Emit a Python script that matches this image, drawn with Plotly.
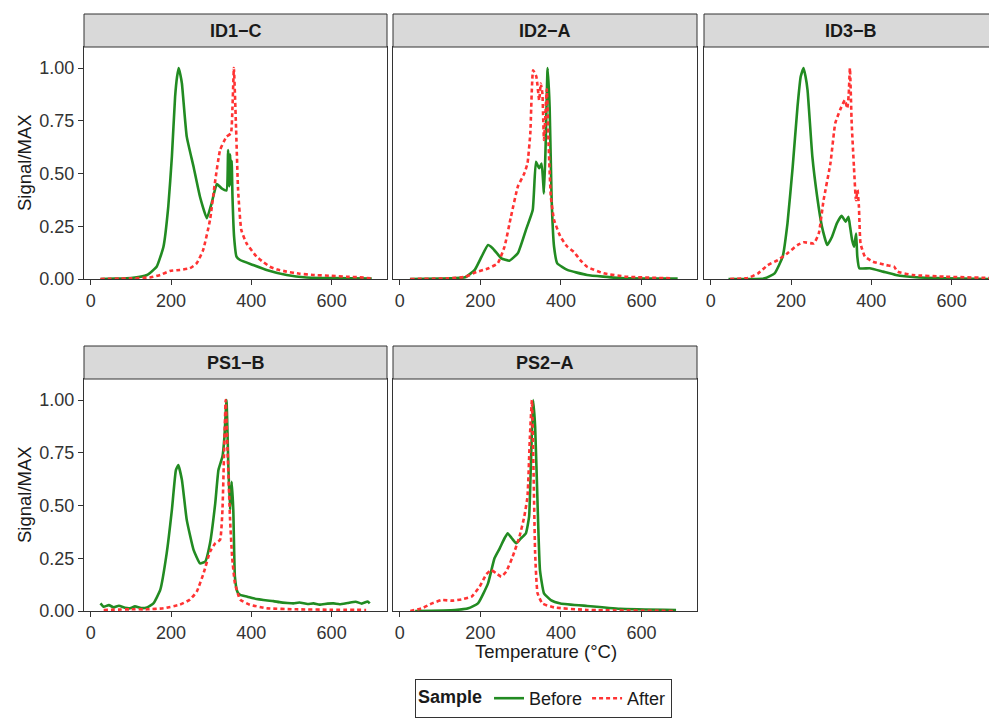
import plotly.graph_objects as go

# ---------------- data ----------------
panels = ["ID1−C", "ID2−A", "ID3−B", "PS1−B", "PS2−A"]
x_ticks = [0, 200, 400, 600]
y_ticks = [0, 0.25, 0.5, 0.75, 1.0]
y_tick_labels = ["0.00", "0.25", "0.50", "0.75", "1.00"]

id1c_before_temp = [24, 60, 100, 140, 164, 181, 193, 202, 210, 215, 219, 223, 227, 239, 256, 272, 289, 301, 314, 326, 338, 342, 345, 347, 349, 351, 353, 357, 363, 372, 405, 438, 488, 537, 600, 700]
id1c_before_signal = [0.0, 0.002, 0.005, 0.019, 0.058, 0.153, 0.343, 0.58, 0.864, 0.96, 1.0, 0.97, 0.927, 0.675, 0.532, 0.39, 0.288, 0.359, 0.45, 0.43, 0.42, 0.611, 0.44, 0.59, 0.45, 0.56, 0.39, 0.2, 0.106, 0.09, 0.066, 0.043, 0.019, 0.007, 0.004, 0.002]
id1c_after_temp = [24, 100, 150, 173, 197, 222, 247, 264, 280, 297, 309, 322, 338, 349, 353, 356.5, 361.5, 367, 375, 388, 413, 430, 446, 465, 488, 520, 554, 600, 637, 670, 699]
id1c_after_signal = [0.0, 0.003, 0.008, 0.019, 0.038, 0.043, 0.051, 0.075, 0.138, 0.28, 0.453, 0.611, 0.675, 0.69, 0.817, 1.0, 0.74, 0.42, 0.232, 0.169, 0.106, 0.08, 0.058, 0.045, 0.035, 0.025, 0.019, 0.015, 0.011, 0.008, 0.003]

id2a_before_temp = [25, 100, 162, 186, 203, 219, 231, 252, 272, 293, 313, 330, 338, 346, 352, 358, 362, 367, 372, 377, 383, 391, 416, 465, 547, 690]
id2a_before_signal = [0.0, 0.002, 0.008, 0.043, 0.106, 0.161, 0.145, 0.098, 0.087, 0.122, 0.232, 0.327, 0.556, 0.525, 0.548, 0.406, 0.627, 1.0, 0.817, 0.375, 0.153, 0.074, 0.043, 0.019, 0.005, 0.002]
id2a_after_temp = [26, 120, 162, 190, 219, 243, 260, 276, 293, 309, 317, 324, 331, 339, 346, 350, 354, 358, 365, 369, 375, 383, 399, 416, 432, 448, 465, 506, 563, 678]
id2a_after_signal = [0.0, 0.003, 0.01, 0.033, 0.05, 0.074, 0.153, 0.296, 0.438, 0.5, 0.548, 0.69, 0.99, 0.96, 0.848, 0.927, 0.88, 0.659, 0.90, 0.659, 0.39, 0.28, 0.2, 0.153, 0.129, 0.09, 0.058, 0.027, 0.011, 0.003]

id3b_before_temp = [44, 134, 159, 179, 191, 204, 216, 224, 231, 236, 241, 253, 265, 277, 290, 302, 314, 326, 336, 343, 347, 352, 357, 362, 365, 370, 396, 429, 461, 510, 625, 700]
id3b_before_signal = [0.0, 0.003, 0.027, 0.106, 0.264, 0.532, 0.817, 0.96, 1.0, 0.96, 0.896, 0.58, 0.39, 0.248, 0.161, 0.2, 0.264, 0.3, 0.272, 0.295, 0.248, 0.185, 0.153, 0.216, 0.106, 0.051, 0.051, 0.035, 0.019, 0.008, 0.002, 0.0]
id3b_after_temp = [48, 93, 118, 142, 167, 191, 216, 232, 257, 269, 281, 298, 310, 322, 334, 340, 343.5, 346.6, 351, 356.6, 361.6, 365.6, 369, 373, 384, 404, 437, 457, 465, 502, 584, 690, 700]
id3b_after_signal = [0.0, 0.005, 0.027, 0.066, 0.09, 0.122, 0.161, 0.174, 0.169, 0.216, 0.374, 0.548, 0.738, 0.801, 0.848, 0.809, 0.872, 1.0, 0.738, 0.532, 0.374, 0.422, 0.343, 0.169, 0.106, 0.082, 0.066, 0.058, 0.035, 0.019, 0.011, 0.005, 0.004]

ps1b_before_temp = [24, 32, 45, 57, 70, 85, 98, 110, 125, 140, 156, 173, 189, 202, 212, 218, 227, 239, 256, 272, 285, 297, 310, 318, 328, 333, 338, 343, 347, 351, 355, 359, 365, 372, 390, 405, 420, 440, 455, 470, 490, 505, 520, 540, 555, 570, 590, 605, 620, 640, 660, 675, 690, 695]
ps1b_before_signal = [0.036, 0.02, 0.028, 0.017, 0.025, 0.015, 0.013, 0.022, 0.014, 0.017, 0.036, 0.1, 0.273, 0.479, 0.668, 0.692, 0.621, 0.432, 0.29, 0.226, 0.234, 0.321, 0.51, 0.668, 0.732, 0.826, 1.0, 0.668, 0.479, 0.613, 0.479, 0.163, 0.092, 0.076, 0.068, 0.06, 0.055, 0.05, 0.047, 0.042, 0.038, 0.036, 0.04, 0.033, 0.036, 0.03, 0.035, 0.036, 0.032, 0.038, 0.044, 0.035, 0.045, 0.036]
ps1b_after_temp = [32, 98, 140, 181, 222, 247, 264, 281, 297, 310, 322, 328, 332, 336, 341, 347, 352, 359, 372, 396, 438, 512, 600, 686]
ps1b_after_signal = [0.005, 0.008, 0.008, 0.013, 0.03, 0.054, 0.092, 0.179, 0.281, 0.321, 0.337, 0.479, 0.747, 1.0, 0.747, 0.432, 0.258, 0.132, 0.054, 0.03, 0.013, 0.008, 0.006, 0.005]

ps2a_before_temp = [38, 137, 170, 194, 219, 235, 248, 260, 268, 278, 289, 301, 313, 321, 325, 331, 336, 342, 348, 358, 375, 399, 465, 547, 686]
ps2a_before_signal = [0.0, 0.005, 0.013, 0.036, 0.131, 0.25, 0.297, 0.345, 0.368, 0.345, 0.321, 0.345, 0.368, 0.447, 0.668, 1.0, 0.874, 0.51, 0.194, 0.084, 0.052, 0.036, 0.024, 0.011, 0.005]
ps2a_after_temp = [26, 55, 80, 104, 129, 153, 178, 198, 215, 227, 239, 252, 264, 280, 297, 309, 317, 323, 328, 332, 336, 342, 354, 383, 465, 678]
ps2a_after_signal = [0.0, 0.013, 0.036, 0.052, 0.049, 0.055, 0.068, 0.115, 0.175, 0.194, 0.179, 0.163, 0.186, 0.257, 0.352, 0.447, 0.542, 0.826, 1.0, 0.668, 0.273, 0.084, 0.036, 0.017, 0.005, 0.0]

before_series = [
    (id1c_before_temp, id1c_before_signal),
    (id2a_before_temp, id2a_before_signal),
    (id3b_before_temp, id3b_before_signal),
    (ps1b_before_temp, ps1b_before_signal),
    (ps2a_before_temp, ps2a_before_signal),
]
after_series = [
    (id1c_after_temp, id1c_after_signal),
    (id2a_after_temp, id2a_after_signal),
    (id3b_after_temp, id3b_after_signal),
    (ps1b_after_temp, ps1b_after_signal),
    (ps2a_after_temp, ps2a_after_signal),
]

# ---------------- layout geometry (screen pixels; page body has an 8px margin) ----------------
W, H = 997, 720
OFF = 8
GREEN = "#228B22"
RED = "#FF3333"
FONT = "Liberation Sans, Arial, sans-serif"
TXT = "#1A1A1A"
BORDER = "#333333"

col_px = [(84, 387), (393, 697), (704, 1000)]
row_px = [(47, 279), (379, 611)]          # plot area top/bottom
strip_px = [(14, 47), (346, 379)]
px_per_unit = 303 / 755.0
x_ranges = [[-17, 738], [-17, 738], [-17, -17 + (1000 - 704) / px_per_unit]]

def fx(p):
    return (p - OFF) / W

def fy(p):
    return 1 - (p - OFF) / H

fig = go.Figure()
shapes = []
annotations = []

positions = [(0, 0), (0, 1), (0, 2), (1, 0), (1, 1)]
for i, (name, (r, c)) in enumerate(zip(panels, positions)):
    n = i + 1
    xa = "xaxis" if n == 1 else f"xaxis{n}"
    ya = "yaxis" if n == 1 else f"yaxis{n}"
    xref = "x" if n == 1 else f"x{n}"
    yref = "y" if n == 1 else f"y{n}"
    x0p, x1p = col_px[c]
    y0p, y1p = row_px[r]

    bt, bs = before_series[i]
    at, asig = after_series[i]
    fig.add_trace(go.Scatter(x=bt, y=bs, mode="lines", name="Before",
                             legendgroup="Before", showlegend=(i == 0),
                             line=dict(color=GREEN, width=2.6, shape="spline", smoothing=0.4),
                             xaxis=xref, yaxis=yref))
    fig.add_trace(go.Scatter(x=at, y=asig, mode="lines", name="After",
                             legendgroup="After", showlegend=(i == 0),
                             line=dict(color=RED, width=2.6, dash="4px,3px", shape="spline", smoothing=0.4),
                             xaxis=xref, yaxis=yref))

    fig.layout[xa] = dict(
        domain=[fx(x0p), min(1.0, fx(x1p))], range=x_ranges[c], anchor=yref,
        tickvals=x_ticks, ticks="outside", ticklen=5, tickwidth=1, tickcolor=BORDER,
        tickfont=dict(family=FONT, size=18, color="#333333"),
        showgrid=False, zeroline=False, showline=True, linecolor=BORDER, linewidth=1,
        mirror=True, automargin=False,
    )
    is_left = (c == 0)
    fig.layout[ya] = dict(
        domain=[fy(y1p), fy(y0p)], range=[0, 1.1], anchor=xref,
        tickvals=y_ticks if is_left else [], ticktext=y_tick_labels if is_left else [],
        showticklabels=is_left, ticks="outside" if is_left else "",
        ticklen=5, tickwidth=1, tickcolor=BORDER,
        tickfont=dict(family=FONT, size=18, color="#333333"),
        showgrid=False, zeroline=False, showline=True, linecolor=BORDER, linewidth=1,
        mirror=(c != 2), automargin=False,
    )

    sy0, sy1 = strip_px[r]
    shapes.append(dict(type="rect", xref="paper", yref="paper",
                       x0=fx(x0p), x1=fx(x1p) if c != 2 else 1.01,
                       y0=fy(sy1), y1=fy(sy0),
                       fillcolor="#D9D9D9", line=dict(color=BORDER, width=1), layer="above"))
    annotations.append(dict(text=f"<b>{name}</b>", xref="paper", yref="paper",
                            x=fx((x0p + x1p) / 2) if c != 2 else fx((705 + 996) / 2),
                            y=fy((sy0 + sy1) / 2), showarrow=False,
                            xanchor="center", yanchor="middle",
                            font=dict(family=FONT, size=18, color=TXT)))

# axis titles
for r in range(2):
    y0p, y1p = row_px[r]
    annotations.append(dict(text="Signal/MAX", xref="paper", yref="paper",
                            x=fx(24), y=fy((y0p + y1p) / 2), textangle=-90,
                            showarrow=False, xanchor="center", yanchor="middle",
                            font=dict(family=FONT, size=18.5, color=TXT)))
annotations.append(dict(text="Temperature (°C)", xref="paper", yref="paper",
                        x=fx(546), y=fy(651), showarrow=False,
                        xanchor="center", yanchor="middle",
                        font=dict(family=FONT, size=18.5, color=TXT)))

fig.update_layout(
    width=W, height=H, margin=dict(l=0, r=0, t=0, b=0, autoexpand=False),
    paper_bgcolor="white", plot_bgcolor="white",
    shapes=shapes, annotations=annotations,
    showlegend=True,
    legend=dict(orientation="h", x=fx(543.5), xanchor="center", y=fy(679), yanchor="top",
                title=dict(text="<b>Sample</b>", font=dict(family=FONT, size=18, color=TXT), side="left"),
                font=dict(family=FONT, size=18, color=TXT),
                bordercolor=BORDER, borderwidth=1, bgcolor="white"),
)

fig.write_html("out.html")
